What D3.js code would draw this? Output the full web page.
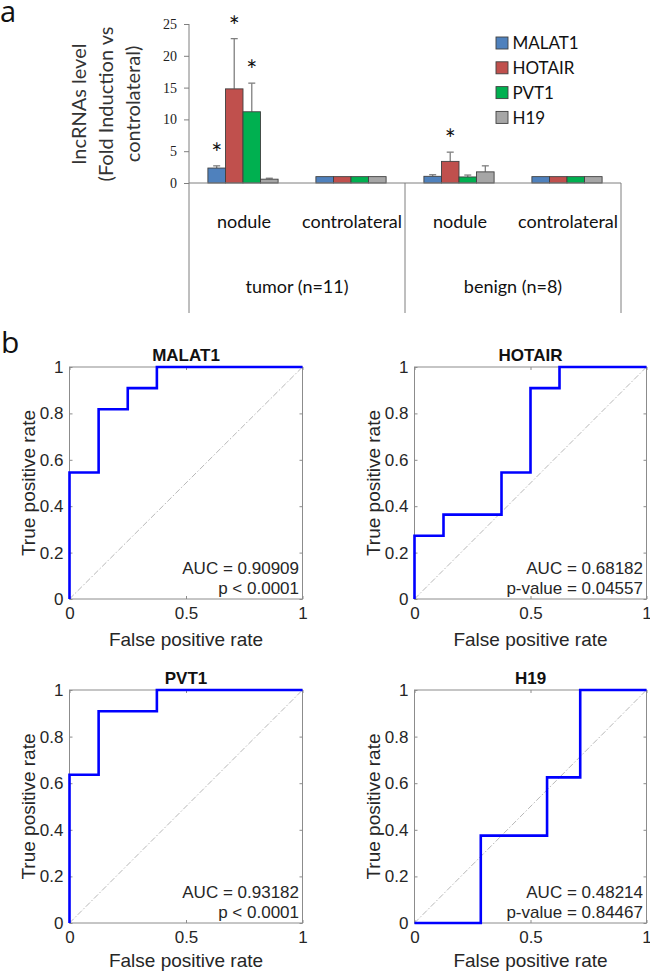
<!DOCTYPE html>
<html>
<head>
<meta charset="utf-8">
<script src="https://cdn.jsdelivr.net/npm/d3@7"></script>
<style>
  html, body { margin: 0; padding: 0; background: #fff; }
  svg { display: block; }
</style>
</head>
<body>
<svg id="chart" width="650" height="973"></svg>
<script>
// ---------- Panel a data ----------
const groups = ["tumor nodule", "tumor controlateral", "benign nodule", "benign controlateral"];
const subLabels = ["nodule", "controlateral", "nodule", "controlateral"];
const superLabels = ["tumor (n=11)", "benign (n=8)"];
const genes = ["MALAT1", "HOTAIR", "PVT1", "H19"];
const geneColors = ["#4F81BD", "#C0504D", "#00B050", "#A6A6A6"];
const valMALAT1 = [2.35, 1.0, 1.05, 1.0];
const valHOTAIR = [14.8, 1.0, 3.4, 1.0];
const valPVT1   = [11.2, 1.0, 0.95, 1.0];
const valH19    = [0.6, 1.0, 1.75, 1.0];
const errMALAT1 = [0.35, 0, 0.25, 0];
const errHOTAIR = [7.9, 0, 1.45, 0];
const errPVT1   = [4.5, 0, 0.3, 0];
const errH19    = [0.15, 0, 0.95, 0];
const yTicksA = [0, 5, 10, 15, 20, 25];
// significance stars: [group index, gene index]
const stars = [[0, 0], [0, 1], [0, 2], [2, 1]];

// ---------- Panel b data ----------
const rocTitles = ["MALAT1", "HOTAIR", "PVT1", "H19"];
const rocMALAT1 = [[0,0],[0,0.5455],[0.125,0.5455],[0.125,0.8182],[0.25,0.8182],[0.25,0.9091],[0.375,0.9091],[0.375,1],[1,1]];
const rocHOTAIR = [[0,0],[0,0.2727],[0.125,0.2727],[0.125,0.3636],[0.375,0.3636],[0.375,0.5455],[0.5,0.5455],[0.5,0.9091],[0.625,0.9091],[0.625,1],[1,1]];
const rocPVT1   = [[0,0],[0,0.6364],[0.125,0.6364],[0.125,0.9091],[0.375,0.9091],[0.375,1],[1,1]];
const rocH19    = [[0,0],[0.2857,0],[0.2857,0.375],[0.5714,0.375],[0.5714,0.625],[0.7143,0.625],[0.7143,1],[1,1]];
const aucLabels = ["AUC = 0.90909", "AUC = 0.68182", "AUC = 0.93182", "AUC = 0.48214"];
const pLabels = ["p < 0.0001", "p-value = 0.04557", "p < 0.0001", "p-value = 0.84467"];
const rocXTicks = [0, 0.5, 1];
const rocYTicks = [0, 0.2, 0.4, 0.6, 0.8, 1];

const svg = d3.select("#chart");
const calib = "Lato, 'Open Sans', sans-serif";
const helv = "'Liberation Sans', Arial, Helvetica, sans-serif";

// ================= Panel a =================
const valuesBy = [valMALAT1, valHOTAIR, valPVT1, valH19];
const errsBy = [errMALAT1, errHOTAIR, errPVT1, errH19];

const ax0 = 189, ax1 = 621, ayTop = 24, ayBot = 183, catBottom = 313;
const x0 = d3.scaleBand().domain(groups).range([ax0, ax1]).paddingInner(0.35).paddingOuter(0.175);
const x1 = d3.scaleBand().domain(genes).range([0, x0.bandwidth()]);
const yA = d3.scaleLinear().domain([0, 25]).range([ayBot, ayTop]);

svg.append("text").attr("x", 0).attr("y", 22).attr("font-family", "'Open Sans', sans-serif")
  .attr("font-size", 29).attr("fill", "#111").text("a");

const gA = svg.append("g");
// y axis
const yAxis = d3.axisLeft(yA).tickValues(yTicksA).tickSize(5).tickPadding(7).tickFormat(d3.format("d"));
const gy = gA.append("g").attr("transform", `translate(${ax0},0)`).call(yAxis);
gy.select(".domain").remove();
gy.selectAll(".tick line").attr("stroke", "#7f7f7f");
gy.selectAll(".tick text").attr("font-family", "'Liberation Serif', serif").attr("font-size", 14).attr("fill", "#222");

// bars
const bars = [];
groups.forEach((g, gi) => genes.forEach((ge, si) => bars.push({ g, gi, ge, si, v: valuesBy[si][gi], e: errsBy[si][gi] })));

// error bars (drawn behind bars)
const eb = gA.append("g").selectAll("g").data(bars.filter(d => d.e > 0)).join("g");
eb.append("line")
  .attr("x1", d => x0(d.g) + x1(d.ge) + x1.bandwidth() / 2)
  .attr("x2", d => x0(d.g) + x1(d.ge) + x1.bandwidth() / 2)
  .attr("y1", d => yA(d.v)).attr("y2", d => yA(d.v + d.e))
  .attr("stroke", "#7f7f7f").attr("stroke-width", 1.3);
eb.append("line")
  .attr("x1", d => x0(d.g) + x1(d.ge) + x1.bandwidth() / 2 - 3.5)
  .attr("x2", d => x0(d.g) + x1(d.ge) + x1.bandwidth() / 2 + 3.5)
  .attr("y1", d => yA(d.v + d.e)).attr("y2", d => yA(d.v + d.e))
  .attr("stroke", "#7f7f7f").attr("stroke-width", 1.3);

gA.append("g").selectAll("rect").data(bars).join("rect")
  .attr("x", d => x0(d.g) + x1(d.ge))
  .attr("y", d => yA(d.v))
  .attr("width", x1.bandwidth())
  .attr("height", d => yA(0) - yA(d.v))
  .attr("fill", d => geneColors[d.si])
  .attr("stroke", "#404040").attr("stroke-width", 0.9);

// stars
gA.append("g").selectAll("text").data(stars).join("text")
  .attr("x", d => x0(groups[d[0]]) + x1(genes[d[1]]) + x1.bandwidth() / 2)
  .attr("y", d => yA(valuesBy[d[1]][d[0]] + errsBy[d[1]][d[0]]) - 3)
  .attr("text-anchor", "middle").attr("font-family", calib).attr("font-size", 26)
  .attr("fill", "#111").text("*");

// axes lines & category separators
gA.append("line").attr("x1", ax0).attr("x2", ax0).attr("y1", ayTop).attr("y2", catBottom).attr("stroke", "#7f7f7f").attr("stroke-width", 1);
gA.append("line").attr("x1", ax0).attr("x2", ax1).attr("y1", ayBot).attr("y2", ayBot).attr("stroke", "#7f7f7f").attr("stroke-width", 1);
const sep = (x0(groups[1]) + x0.bandwidth() + x0(groups[2])) / 2;
[sep, ax1].forEach(x => gA.append("line").attr("x1", x).attr("x2", x).attr("y1", ayBot).attr("y2", catBottom).attr("stroke", "#7f7f7f").attr("stroke-width", 1));

// category labels
gA.append("g").selectAll("text").data(groups).join("text")
  .attr("x", d => x0(d) + x0.bandwidth() / 2 + 1)
  .attr("y", 228).attr("text-anchor", "middle")
  .attr("font-family", calib).attr("font-size", 18).attr("fill", "#111")
  .text((d, i) => subLabels[i]);
gA.append("g").selectAll("text").data(superLabels).join("text")
  .attr("x", (d, i) => i === 0 ? (ax0 + sep) / 2 : (sep + ax1) / 2)
  .attr("y", 293).attr("text-anchor", "middle")
  .attr("font-family", calib).attr("font-size", 18).attr("fill", "#111")
  .text(d => d);

// y label (3 lines)
const yLab = gA.append("text").attr("transform", "translate(86,104) rotate(-90)")
  .attr("text-anchor", "middle").attr("font-family", calib).attr("font-size", 20).attr("fill", "#333");
["lncRNAs level", "(Fold Induction vs", "controlateral)"].forEach((t, i) =>
  yLab.append("tspan").attr("x", 0).attr("dy", i === 0 ? 0 : 27).text(t));

// legend
const leg = gA.append("g").selectAll("g").data(genes).join("g")
  .attr("transform", (d, i) => `translate(496,${43 + i * 24.8})`);
leg.append("rect").attr("x", 0).attr("y", -6).attr("width", 12).attr("height", 12)
  .attr("fill", (d, i) => geneColors[i]).attr("stroke", "#404040").attr("stroke-width", 0.9);
leg.append("text").attr("x", 16.5).attr("y", 0).attr("dy", "0.36em")
  .attr("font-family", calib).attr("font-size", 17).attr("fill", "#111").text(d => d);

// ================= Panel b =================
svg.append("text").attr("x", 1).attr("y", 353).attr("font-family", "'Open Sans', sans-serif")
  .attr("font-size", 30).attr("fill", "#111").text("b");

const rocData = [rocMALAT1, rocHOTAIR, rocPVT1, rocH19];
const cols = [[69.5, 302.5], [414.5, 646.5]];
const rows = [[367, 599], [690, 923]];
const xLabOffset = [47, 44];

rocData.forEach((pts, k) => {
  const ri = Math.floor(k / 2);
  const c = cols[k % 2], r = rows[ri];
  const xs = d3.scaleLinear().domain([0, 1]).range(c);
  const ys = d3.scaleLinear().domain([0, 1]).range([r[1], r[0]]);
  const g = svg.append("g");

  // diagonal
  g.append("line").attr("x1", xs(0)).attr("y1", ys(0)).attr("x2", xs(1)).attr("y2", ys(1))
    .attr("stroke", "#9a9a9a").attr("stroke-width", 0.7).attr("stroke-dasharray", "6,2,1.5,2");

  // box
  g.append("rect").attr("x", c[0]).attr("y", r[0]).attr("width", c[1] - c[0]).attr("height", r[1] - r[0])
    .attr("fill", "none").attr("stroke", "#8c8c8c").attr("stroke-width", 1);

  // axes with inward ticks
  const bx = g.append("g").attr("transform", `translate(0,${r[1]})`)
    .call(d3.axisBottom(xs).tickValues(rocXTicks).tickSize(-3).tickPadding(8).tickFormat(d3.format("")));
  const tx = g.append("g").attr("transform", `translate(0,${r[0]})`)
    .call(d3.axisTop(xs).tickValues(rocXTicks).tickSize(-3).tickFormat(""));
  const ly = g.append("g").attr("transform", `translate(${c[0]},0)`)
    .call(d3.axisLeft(ys).tickValues(rocYTicks).tickSize(-3).tickPadding(6).tickFormat(d3.format("")));
  const ry = g.append("g").attr("transform", `translate(${c[1]},0)`)
    .call(d3.axisRight(ys).tickValues(rocYTicks).tickSize(-3).tickFormat(""));
  [bx, tx, ly, ry].forEach(a => {
    a.select(".domain").remove();
    a.selectAll(".tick line").attr("stroke", "#8c8c8c");
    a.selectAll(".tick text").attr("font-family", helv).attr("font-size", 17).attr("fill", "#262626");
  });

  // curve
  g.append("path").datum(pts)
    .attr("d", d3.line().x(d => xs(d[0])).y(d => ys(d[1])))
    .attr("fill", "none").attr("stroke", "#0000FF").attr("stroke-width", 2.6)
    .attr("stroke-linejoin", "miter");

  // title
  g.append("text").attr("x", (c[0] + c[1]) / 2).attr("y", r[0] - 6)
    .attr("text-anchor", "middle").attr("font-family", helv).attr("font-weight", "bold")
    .attr("font-size", 17).attr("fill", "#111").text(rocTitles[k]);

  // labels
  g.append("text").attr("x", (c[0] + c[1]) / 2).attr("y", r[1] + xLabOffset[ri])
    .attr("text-anchor", "middle").attr("font-family", helv).attr("font-size", 19)
    .attr("fill", "#262626").text("False positive rate");
  g.append("text").attr("transform", `translate(${c[0] - 35},${(r[0] + r[1]) / 2}) rotate(-90)`)
    .attr("text-anchor", "middle").attr("font-family", helv).attr("font-size", 19)
    .attr("fill", "#262626").text("True positive rate");

  // AUC text
  g.append("text").attr("x", c[1] - 3.5).attr("y", r[1] - 25)
    .attr("text-anchor", "end").attr("font-family", helv).attr("font-size", 17)
    .attr("fill", "#262626").text(aucLabels[k]);
  g.append("text").attr("x", c[1] - 3.5).attr("y", r[1] - 5.5)
    .attr("text-anchor", "end").attr("font-family", helv).attr("font-size", 17)
    .attr("fill", "#262626").text(pLabels[k]);
});
</script>
</body>
</html>
